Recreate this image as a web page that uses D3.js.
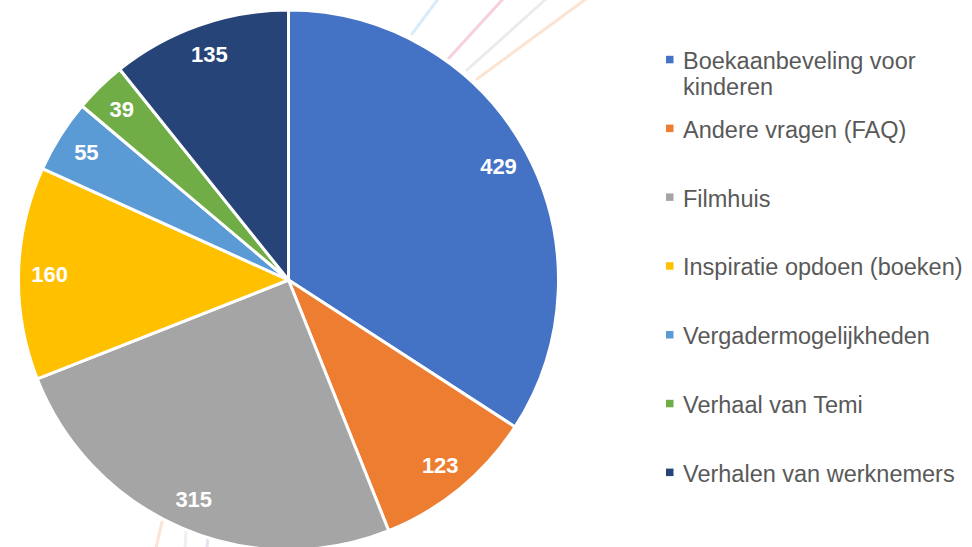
<!DOCTYPE html>
<html>
<head>
<meta charset="utf-8">
<script src="https://cdn.jsdelivr.net/npm/d3@7"></script>
<style>
  html, body { margin: 0; padding: 0; background: #ffffff; }
  svg { display: block; }
</style>
</head>
<body>
<svg id="chart" width="972" height="547"></svg>
<script>
const categories = [
  "Boekaanbeveling voor kinderen",
  "Andere vragen (FAQ)",
  "Filmhuis",
  "Inspiratie opdoen (boeken)",
  "Vergadermogelijkheden",
  "Verhaal van Temi",
  "Verhalen van werknemers"
];
const values = [429, 123, 315, 160, 55, 39, 135];
const colors = ["#4472C4", "#ED7D31", "#A5A5A5", "#FFC000", "#5B9BD5", "#70AD47", "#264478"];

const W = 972, H = 547;
const svg = d3.select("#chart");

const defs = svg.append("defs");
defs.append("filter").attr("id", "soft")
  .append("feGaussianBlur").attr("stdDeviation", 0.7);

// faint decorative background strokes
const deco = [
  {x1: 412, y1: 34, x2: 438, y2: -1, c: "#d9edf9"},
  {x1: 449, y1: 58, x2: 503, y2: -1, c: "#f6cfe1"},
  {x1: 467, y1: 70, x2: 546, y2: -1, c: "#ebebeb"},
  {x1: 477, y1: 79, x2: 586, y2: -1, c: "#fce4d3"},
  {x1: 162, y1: 522, x2: 156, y2: 548, c: "#fce4d3"},
  {x1: 186, y1: 532, x2: 185, y2: 548, c: "#efefef"},
  {x1: 208, y1: 538, x2: 207, y2: 548, c: "#ebdff3"}
];
svg.append("g").attr("filter", "url(#soft)")
  .selectAll("line").data(deco).join("line")
  .attr("x1", d => d.x1).attr("y1", d => d.y1)
  .attr("x2", d => d.x2).attr("y2", d => d.y2)
  .attr("stroke", d => d.c).attr("stroke-width", 3)
  .attr("stroke-linecap", "round");

const cx = 288.5, cy = 280, R = 270, labelR = 239;

const data = categories.map((c, i) => ({cat: c, value: values[i], color: colors[i]}));
const pie = d3.pie().value(d => d.value).sort(null).startAngle(0).endAngle(2 * Math.PI);
const arcs = pie(data);
const arc = d3.arc().innerRadius(0).outerRadius(R);
const labelArc = d3.arc().innerRadius(labelR).outerRadius(labelR);

const g = svg.append("g").attr("transform", `translate(${cx},${cy})`);
g.selectAll("path").data(arcs).join("path")
  .attr("d", arc)
  .attr("fill", d => d.data.color)
  .attr("stroke", "#ffffff")
  .attr("stroke-width", 3)
  .attr("stroke-linejoin", "round");

g.selectAll("text").data(arcs).join("text")
  .attr("transform", d => `translate(${labelArc.centroid(d)})`)
  .attr("text-anchor", "middle")
  .attr("dy", "0.36em")
  .attr("fill", "#ffffff")
  .attr("font-family", "'Liberation Sans', Arial, sans-serif")
  .attr("font-weight", "bold")
  .attr("font-size", "22px")
  .text(d => d.data.value);

// legend
const legX = 666, textX = 683, firstBase = 69, step = 68.8, lineH = 26, maxW = 288;
const leg = svg.append("g");
data.forEach((d, i) => {
  const base = firstBase + i * step;
  leg.append("rect")
    .attr("x", legX).attr("y", base - 13.2)
    .attr("width", 7.5).attr("height", 7.5)
    .attr("fill", d.color);
  const t = leg.append("text")
    .attr("x", textX).attr("y", base)
    .attr("fill", "#595959")
    .attr("font-family", "'Liberation Sans', Arial, sans-serif")
    .attr("font-size", "23.5px");
  const words = d.cat.split(" ");
  let line = [];
  let lineNo = 0;
  let tspan = t.append("tspan").attr("x", textX).attr("y", base);
  words.forEach(w => {
    line.push(w);
    tspan.text(line.join(" "));
    if (tspan.node().getComputedTextLength() > maxW && line.length > 1) {
      line.pop();
      tspan.text(line.join(" "));
      line = [w];
      lineNo++;
      tspan = t.append("tspan").attr("x", textX).attr("y", base + lineNo * lineH).text(w);
    }
  });
});
</script>
</body>
</html>
